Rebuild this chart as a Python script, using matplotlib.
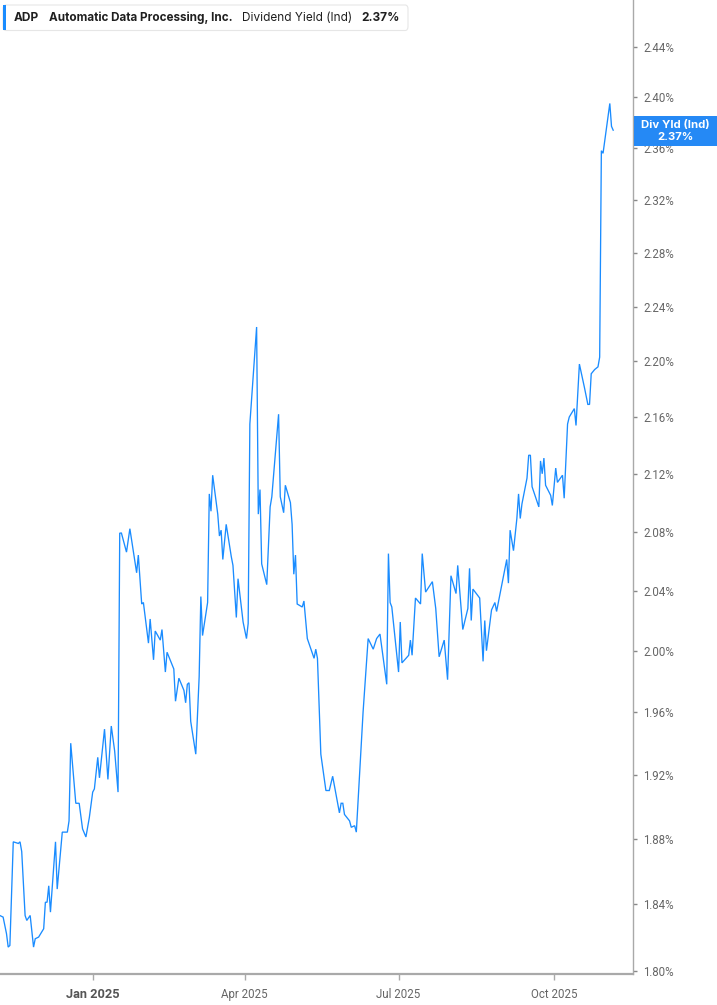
import matplotlib
matplotlib.use("Agg")
import matplotlib.pyplot as plt
import matplotlib.dates as mdates
import matplotlib.ticker as mticker
from matplotlib.patches import FancyBboxPatch, Rectangle
from datetime import datetime, timedelta

# ---------------- data ----------------
dates = [
    "2024-11-07", "2024-11-09", "2024-11-11", "2024-11-12", "2024-11-13", "2024-11-15",
    "2024-11-18", "2024-11-19", "2024-11-20", "2024-11-22", "2024-11-23", "2024-11-25",
    "2024-11-27", "2024-11-28", "2024-11-30", "2024-12-03", "2024-12-04", "2024-12-05",
    "2024-12-06", "2024-12-07", "2024-12-10", "2024-12-11", "2024-12-14", "2024-12-17",
    "2024-12-18", "2024-12-19", "2024-12-22", "2024-12-24", "2024-12-26", "2024-12-28",
    "2024-12-30", "2025-01-01", "2025-01-02", "2025-01-04", "2025-01-05", "2025-01-08",
    "2025-01-10", "2025-01-12", "2025-01-14", "2025-01-16", "2025-01-17", "2025-01-18",
    "2025-01-21", "2025-01-23", "2025-01-27", "2025-01-28", "2025-01-30", "2025-01-31",
    "2025-02-03", "2025-02-04", "2025-02-06", "2025-02-07", "2025-02-10", "2025-02-11",
    "2025-02-13", "2025-02-14", "2025-02-18", "2025-02-19", "2025-02-21", "2025-02-24",
    "2025-02-25", "2025-02-26", "2025-02-27", "2025-02-28", "2025-03-03", "2025-03-05",
    "2025-03-06", "2025-03-07", "2025-03-10", "2025-03-11", "2025-03-12", "2025-03-13",
    "2025-03-16", "2025-03-17", "2025-03-18", "2025-03-19", "2025-03-21", "2025-03-24",
    "2025-03-25", "2025-03-27", "2025-03-28", "2025-03-31", "2025-04-02", "2025-04-03",
    "2025-04-04", "2025-04-06", "2025-04-08", "2025-04-09", "2025-04-10", "2025-04-11",
    "2025-04-14", "2025-04-16", "2025-04-17", "2025-04-21", "2025-04-22", "2025-04-24",
    "2025-04-25", "2025-04-28", "2025-04-29", "2025-04-30", "2025-05-01", "2025-05-02",
    "2025-05-05", "2025-05-06", "2025-05-08", "2025-05-12", "2025-05-13", "2025-05-14",
    "2025-05-16", "2025-05-19", "2025-05-21", "2025-05-23", "2025-05-27", "2025-05-28",
    "2025-05-29", "2025-05-30", "2025-06-02", "2025-06-03", "2025-06-05", "2025-06-06",
    "2025-06-10", "2025-06-13", "2025-06-16", "2025-06-18", "2025-06-20", "2025-06-24",
    "2025-06-25", "2025-06-26", "2025-06-27", "2025-07-01", "2025-07-02", "2025-07-03",
    "2025-07-07", "2025-07-08", "2025-07-09", "2025-07-11", "2025-07-14", "2025-07-15",
    "2025-07-17", "2025-07-21", "2025-07-23", "2025-07-25", "2025-07-28", "2025-07-30",
    "2025-08-01", "2025-08-04", "2025-08-05", "2025-08-08", "2025-08-11", "2025-08-12",
    "2025-08-13", "2025-08-14", "2025-08-18", "2025-08-20", "2025-08-21", "2025-08-22",
    "2025-08-25", "2025-08-27", "2025-08-28", "2025-09-03", "2025-09-04", "2025-09-05",
    "2025-09-07", "2025-09-09", "2025-09-10", "2025-09-11", "2025-09-12", "2025-09-15",
    "2025-09-16", "2025-09-17", "2025-09-18", "2025-09-22", "2025-09-23", "2025-09-24",
    "2025-09-25", "2025-09-26", "2025-09-29", "2025-09-30", "2025-10-02", "2025-10-03",
    "2025-10-06", "2025-10-07", "2025-10-09", "2025-10-10", "2025-10-13", "2025-10-14",
    "2025-10-16", "2025-10-19", "2025-10-21", "2025-10-22", "2025-10-23", "2025-10-25",
    "2025-10-27", "2025-10-28", "2025-10-29", "2025-10-30", "2025-11-03", "2025-11-04",
    "2025-11-05",
]

div_yield = [
    1.833, 1.832, 1.822, 1.814, 1.815, 1.878,
    1.877, 1.878, 1.872, 1.833, 1.830, 1.833,
    1.814, 1.819, 1.820, 1.825, 1.841, 1.841,
    1.851, 1.835, 1.878, 1.849, 1.884, 1.884,
    1.891, 1.940, 1.902, 1.902, 1.886, 1.881,
    1.893, 1.909, 1.911, 1.931, 1.918, 1.949,
    1.917, 1.951, 1.935, 1.909, 2.079, 2.079,
    2.066, 2.082, 2.052, 2.064, 2.031, 2.032,
    2.005, 2.021, 1.994, 2.013, 2.007, 2.014,
    1.986, 1.999, 1.988, 1.967, 1.982, 1.974,
    1.966, 1.978, 1.979, 1.954, 1.933, 1.983,
    2.036, 2.010, 2.032, 2.106, 2.094, 2.119,
    2.092, 2.077, 2.081, 2.061, 2.085, 2.063,
    2.057, 2.022, 2.048, 2.019, 2.008, 2.018,
    2.155, 2.190, 2.225, 2.092, 2.109, 2.058,
    2.044, 2.097, 2.104, 2.162, 2.104, 2.093,
    2.112, 2.100, 2.085, 2.051, 2.064, 2.031,
    2.029, 2.033, 2.008, 1.995, 2.001, 1.995,
    1.933, 1.910, 1.910, 1.919, 1.896, 1.902,
    1.902, 1.895, 1.891, 1.887, 1.888, 1.884,
    1.960, 2.008, 2.001, 2.008, 2.011, 1.978,
    2.065, 2.032, 2.029, 1.986, 2.019, 1.992,
    1.997, 2.007, 1.997, 2.035, 2.031, 2.065,
    2.039, 2.046, 2.028, 1.996, 2.007, 1.981,
    2.050, 2.038, 2.057, 2.014, 2.028, 2.055,
    2.020, 2.041, 2.035, 1.993, 2.020, 2.000,
    2.027, 2.032, 2.026, 2.061, 2.045, 2.081,
    2.067, 2.089, 2.106, 2.089, 2.099, 2.117,
    2.133, 2.133, 2.111, 2.097, 2.129, 2.120,
    2.131, 2.112, 2.105, 2.098, 2.124, 2.114,
    2.119, 2.103, 2.155, 2.160, 2.166, 2.154,
    2.198, 2.181, 2.169, 2.169, 2.191, 2.194,
    2.196, 2.203, 2.358, 2.356, 2.395, 2.377,
    2.374,
]

y_ticks = [1.80, 1.84, 1.88, 1.92, 1.96, 2.00, 2.04, 2.08, 2.12, 2.16,
           2.20, 2.24, 2.28, 2.32, 2.36, 2.40, 2.44]
x_tick_dates = ["2025-01-01", "2025-04-01", "2025-07-01", "2025-10-01"]
x_tick_labels = ["Jan 2025", "Apr 2025", "Jul 2025", "Oct 2025"]

ticker_sym = "ADP"
company = "Automatic Data Processing, Inc."
metric = "Dividend Yield (Ind)"
last_label = "2.37%"
badge_title = "Div Yld (Ind)"

# ---------------- styling ----------------
LINE = "#1a8cff"
BADGE = "#2589f5"
GRAY = "#a9a9a9"
TICKTXT = "#666666"
FONT = ["Roboto", "DejaVu Sans"]
HFONT = ["Inter", "DejaVu Sans"]

W, H = 717, 1005
fig = plt.figure(figsize=(W / 100, H / 100), dpi=100)
fig.patch.set_facecolor("white")

ax_left, ax_right, ax_top, ax_bottom = 0, 633.3, 0, 974
ax = fig.add_axes([ax_left / W, 1 - ax_bottom / H,
                   (ax_right - ax_left) / W, (ax_bottom - ax_top) / H])
ax.set_facecolor("white")

xd = [datetime.strptime(d, "%Y-%m-%d") for d in dates]
ax.plot(xd, div_yield, color=LINE, lw=0.95, solid_joinstyle="miter", zorder=3)

ax.set_yscale("log")
ax.set_ylim(1.798, 2.478)
ref = datetime(2025, 1, 1)
ax.set_xlim(ref - timedelta(days=54.85), ref + timedelta(days=319.9))

ax.yaxis.tick_right()
ax.yaxis.set_major_locator(mticker.FixedLocator(y_ticks))
ax.yaxis.set_major_formatter(mticker.FixedFormatter([f"{v:.2f}%" for v in y_ticks]))
ax.yaxis.set_minor_locator(mticker.NullLocator())
ax.tick_params(axis="y", which="major", direction="out", length=3, width=1,
               color="#888888", pad=4, labelsize=8.3, labelcolor=TICKTXT)

xt = [datetime.strptime(d, "%Y-%m-%d") for d in x_tick_dates]
ax.set_xticks(xt)
ax.set_xticklabels(x_tick_labels)
ax.xaxis.set_minor_locator(mticker.NullLocator())
ax.tick_params(axis="x", which="major", direction="out", length=4, width=1,
               color=GRAY, pad=6, labelsize=8.3, labelcolor=TICKTXT)
for lab in ax.get_xticklabels() + ax.get_yticklabels():
    lab.set_family(FONT)
first = ax.get_xticklabels()[0]
first.set_fontweight("bold")
first.set_fontsize(9.2)
first.set_color("#555555")

for s in ["top", "left"]:
    ax.spines[s].set_visible(False)
ax.spines["right"].set_color(GRAY)
ax.spines["right"].set_linewidth(1.0)
ax.spines["bottom"].set_color(GRAY)
ax.spines["bottom"].set_linewidth(1.6)

# ---------------- header box ----------------
def fx(px):
    return px / W

def fy(py):
    return 1 - py / H

hb = FancyBboxPatch((fx(3), fy(30.5)), fx(405), 25.5 / H,
                    boxstyle="round,pad=0,rounding_size=0.004",
                    transform=fig.transFigure, facecolor="white",
                    edgecolor="#e6e6e6", lw=0.8, zorder=5)
fig.patches.append(hb)
fig.patches.append(Rectangle((fx(3), fy(30.5)), fx(3), 25.5 / H,
                             transform=fig.transFigure, facecolor=LINE,
                             edgecolor="none", zorder=6))
ty = fy(18)
fig.text(fx(13.5), ty, ticker_sym, fontsize=8.6, fontweight="bold", color="#1f1f1f",
         family=HFONT, va="center", ha="left", zorder=7)
fig.text(fx(49), ty, company, fontsize=8.4, fontweight="bold", color="#1f1f1f",
         family=HFONT, va="center", ha="left", zorder=7)
fig.text(fx(242), ty, metric, fontsize=8.5, color="#1f1f1f",
         family=HFONT, va="center", ha="left", zorder=7)
fig.text(fx(361), ty, last_label, fontsize=8.6, fontweight="bold", color="#1f1f1f",
         family=HFONT, va="center", ha="left", zorder=7)

# ---------------- right badge ----------------
fig.patches.append(Rectangle((fx(634), fy(146)), fx(83), 30 / H,
                             transform=fig.transFigure, facecolor=BADGE,
                             edgecolor="none", zorder=8))
fig.text(fx(675), fy(125), badge_title, fontsize=8.2, fontweight="bold", color="white",
         family=HFONT, va="center", ha="center", zorder=9)
fig.text(fx(675), fy(137), last_label, fontsize=8.2, fontweight="bold", color="white",
         family=HFONT, va="center", ha="center", zorder=9)

fig.savefig("out.png", dpi=100, facecolor="white")
